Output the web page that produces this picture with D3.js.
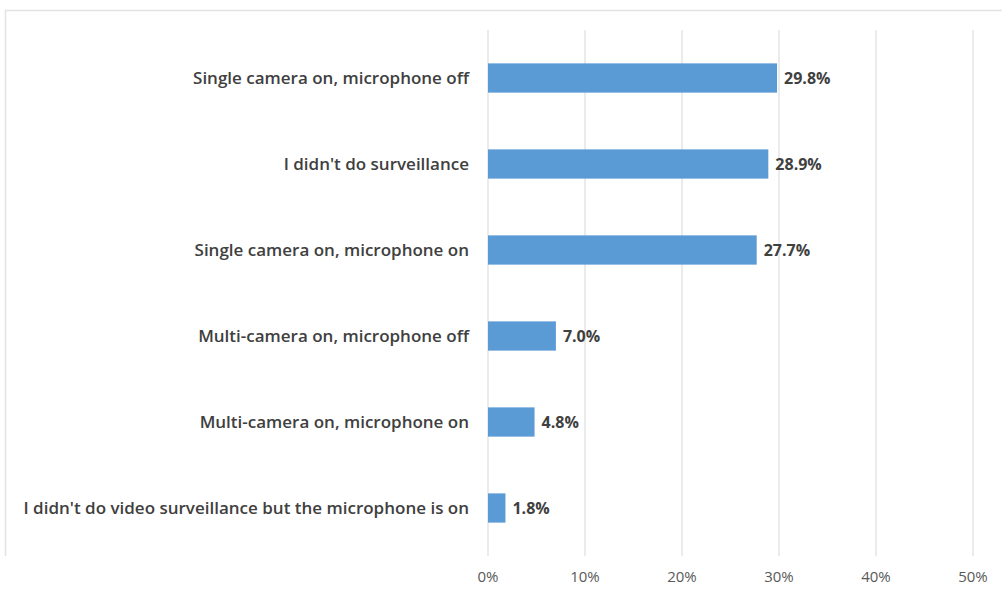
<!DOCTYPE html>
<html>
<head>
<meta charset="utf-8">
<script src="https://cdn.jsdelivr.net/npm/d3@7"></script>
<style>
  body { margin: 0; background: #fff; }
  svg { display: block; }
</style>
</head>
<body>
<script>
var w = 1002;
var h = 593;

// data
var categories = [
  "Single camera on, microphone off",
  "I didn't do surveillance",
  "Single camera on, microphone on",
  "Multi-camera on, microphone off",
  "Multi-camera on, microphone on",
  "I didn't do video surveillance but the microphone is on"
];
var values = [29.8, 28.9, 27.7, 7.0, 4.8, 1.8];
var tickValues = [0, 10, 20, 30, 40, 50];

var margin = {left: 488, right: 29, top: 35, bottom: 42};

var svg = d3.select("body").append("svg")
    .attr("width", w)
    .attr("height", h);

// faint frame lines at top and left
svg.append("line").attr("x1", 5).attr("x2", w).attr("y1", 10.5).attr("y2", 10.5)
    .attr("stroke", "#e3e3e3").attr("stroke-width", 1.5);
svg.append("line").attr("x1", 5.5).attr("x2", 5.5).attr("y1", 10).attr("y2", 556)
    .attr("stroke", "#e3e3e3").attr("stroke-width", 1.5);

var xScale = d3.scaleLinear()
    .domain([0, 50])
    .range([margin.left, w - margin.right]);

var yScale = d3.scaleBand()
    .domain(categories)
    .range([margin.top, h - margin.bottom])
    .paddingInner(0.66)
    .paddingOuter(0.33);

// gridlines
svg.selectAll("line.grid")
    .data(tickValues)
    .enter()
    .append("line")
    .attr("class", "grid")
    .attr("x1", function(d) { return xScale(d); })
    .attr("x2", function(d) { return xScale(d); })
    .attr("y1", 30)
    .attr("y2", 556)
    .attr("stroke", "#e4e4e4")
    .attr("stroke-width", 1.5);

// bars
svg.selectAll("rect.bar")
    .data(values)
    .enter()
    .append("rect")
    .attr("class", "bar")
    .attr("x", xScale(0))
    .attr("y", function(d, i) { return yScale(categories[i]); })
    .attr("width", function(d) { return xScale(d) - xScale(0); })
    .attr("height", yScale.bandwidth())
    .attr("fill", "#5b9bd5");

// value labels
svg.selectAll("text.val")
    .data(values)
    .enter()
    .append("text")
    .attr("class", "val")
    .text(function(d) { return d.toFixed(1) + "%"; })
    .attr("x", function(d) { return xScale(d) + 7; })
    .attr("y", function(d, i) { return yScale(categories[i]) + yScale.bandwidth() / 2; })
    .attr("dy", "0.35em")
    .attr("font-family", "'Open Sans', sans-serif")
    .attr("font-weight", "bold")
    .attr("font-size", "16px")
    .attr("fill", "#404040");

// category labels
svg.selectAll("text.cat")
    .data(categories)
    .enter()
    .append("text")
    .attr("class", "cat")
    .text(function(d) { return d; })
    .attr("x", 469)
    .attr("y", function(d) { return yScale(d) + yScale.bandwidth() / 2; })
    .attr("dy", "0.35em")
    .attr("text-anchor", "end")
    .attr("font-family", "'Open Sans', sans-serif")
    .attr("font-weight", 600)
    .attr("font-size", "17px")
    .attr("fill", "#404040");

// x axis tick labels
svg.selectAll("text.tick")
    .data(tickValues)
    .enter()
    .append("text")
    .attr("class", "tick")
    .text(function(d) { return d + "%"; })
    .attr("x", function(d) { return xScale(d); })
    .attr("y", 582)
    .attr("text-anchor", "middle")
    .attr("font-family", "'Open Sans', sans-serif")
    .attr("font-size", "15px")
    .attr("fill", "#595959");
</script>
</body>
</html>
